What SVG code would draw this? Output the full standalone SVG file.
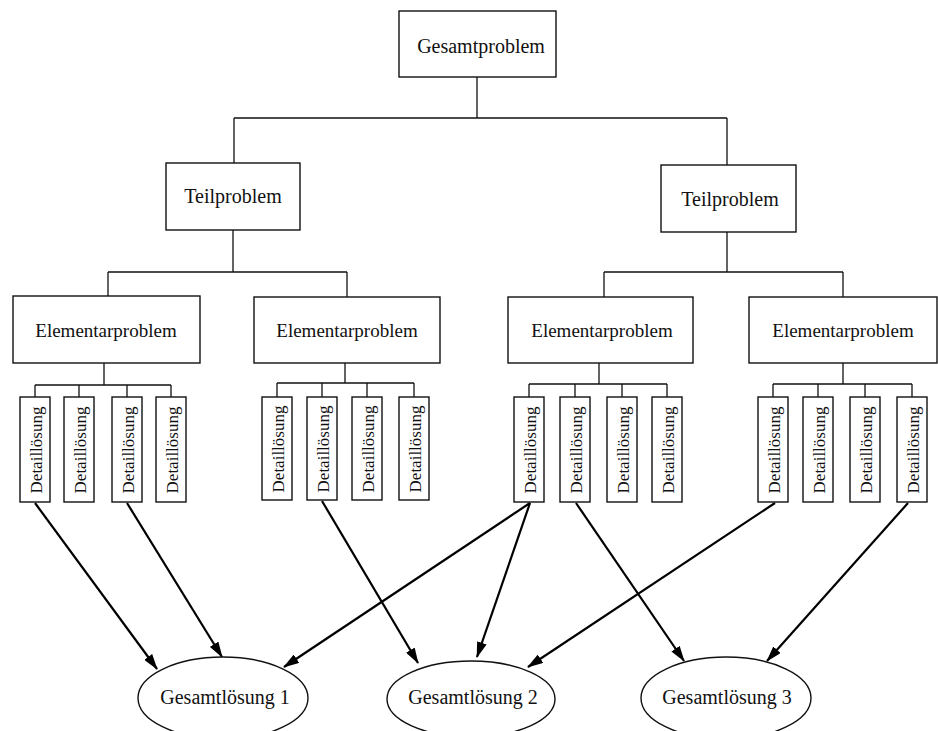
<svg xmlns="http://www.w3.org/2000/svg" width="938" height="731" viewBox="0 0 938 731">
<style>
.box{fill:#fff;stroke:#111;stroke-width:1.4}
.ln{fill:none;stroke:#111;stroke-width:1.3}
.arr{fill:none;stroke:#000;stroke-width:2.2}
.t{font-family:"Liberation Serif","Times New Roman",serif;font-size:20px;fill:#111;text-anchor:middle}
.te{font-family:"Liberation Serif","Times New Roman",serif;font-size:19px;fill:#111;text-anchor:middle}
.td{font-family:"Liberation Serif","Times New Roman",serif;font-size:17px;fill:#111;text-anchor:middle}
</style>
<defs>
<marker id="ah" markerWidth="16" markerHeight="10" refX="15" refY="5" orient="auto" markerUnits="userSpaceOnUse">
<path d="M0,0 L16,5 L0,10 Z" fill="#000"/>
</marker>
</defs>
<rect width="938" height="731" fill="#fff"/>
<g id="connectors">
<path class="ln" d="M477,77 V118 M234,118 H727 M234,118 V163 M727,118 V165"/>
<path class="ln" d="M233,230 V272 M108,272 H347 M108,272 V296 M347,272 V297"/>
<path class="ln" d="M727,232 V272 M604,272 H843 M604,272 V297 M843,272 V297"/>
<path class="ln" d="M104,363 V385 M35,385 H171 M35,385 V397 M79,385 V397 M127,385 V397 M171,385 V397"/>
<path class="ln" d="M345,363 V383 M277,383 H414 M277,383 V397 M322,383 V397 M367,383 V397 M414,383 V397"/>
<path class="ln" d="M599,363 V384 M529,384 H667 M529,384 V397 M575,384 V397 M622,384 V397 M667,384 V397"/>
<path class="ln" d="M843,363 V384 M773,384 H912 M773,384 V397 M818,384 V397 M865,384 V397 M912,384 V397"/>
<line class="arr" x1="35" y1="503" x2="157" y2="669" marker-end="url(#ah)"/>
<line class="arr" x1="127" y1="503" x2="222" y2="657" marker-end="url(#ah)"/>
<line class="arr" x1="322" y1="501" x2="418" y2="663" marker-end="url(#ah)"/>
<line class="arr" x1="530" y1="503" x2="284" y2="667" marker-end="url(#ah)"/>
<line class="arr" x1="530" y1="503" x2="477" y2="657" marker-end="url(#ah)"/>
<line class="arr" x1="576" y1="503" x2="684" y2="661" marker-end="url(#ah)"/>
<line class="arr" x1="775" y1="503" x2="528" y2="667" marker-end="url(#ah)"/>
<line class="arr" x1="908" y1="503" x2="767" y2="661" marker-end="url(#ah)"/>
</g>
<g id="gesamtproblem"><rect class="box" x="399" y="11" width="157" height="66"/><text class="t" x="481" y="53">Gesamtproblem</text></g>
<g id="teil1"><rect class="box" x="166" y="163" width="134" height="67"/><text class="t" x="233" y="203">Teilproblem</text></g>
<g id="teil2"><rect class="box" x="661" y="165" width="135" height="67"/><text class="t" x="730" y="206">Teilproblem</text></g>
<g id="elem1"><rect class="box" x="13" y="296" width="187" height="67"/><text class="te" x="106" y="337">Elementarproblem</text></g>
<g id="elem2"><rect class="box" x="254" y="297" width="186" height="66"/><text class="te" x="347" y="337">Elementarproblem</text></g>
<g id="elem3"><rect class="box" x="508" y="297" width="185" height="66"/><text class="te" x="602" y="337">Elementarproblem</text></g>
<g id="elem4"><rect class="box" x="749" y="297" width="188" height="66"/><text class="te" x="843" y="337">Elementarproblem</text></g>
<g id="d1"><rect class="box" x="20" y="397" width="30" height="105"/><text class="td" transform="translate(42,450) rotate(-90)">Detaillösung</text></g>
<g id="d2"><rect class="box" x="64" y="397" width="30" height="105"/><text class="td" transform="translate(86,450) rotate(-90)">Detaillösung</text></g>
<g id="d3"><rect class="box" x="112" y="397" width="30" height="105"/><text class="td" transform="translate(134,450) rotate(-90)">Detaillösung</text></g>
<g id="d4"><rect class="box" x="156" y="397" width="30" height="105"/><text class="td" transform="translate(178,450) rotate(-90)">Detaillösung</text></g>
<g id="d5"><rect class="box" x="262" y="397" width="30" height="103"/><text class="td" transform="translate(284,449) rotate(-90)">Detaillösung</text></g>
<g id="d6"><rect class="box" x="307" y="397" width="30" height="103"/><text class="td" transform="translate(329,449) rotate(-90)">Detaillösung</text></g>
<g id="d7"><rect class="box" x="352" y="397" width="30" height="103"/><text class="td" transform="translate(374,449) rotate(-90)">Detaillösung</text></g>
<g id="d8"><rect class="box" x="399" y="397" width="30" height="103"/><text class="td" transform="translate(421,449) rotate(-90)">Detaillösung</text></g>
<g id="d9"><rect class="box" x="514" y="397" width="30" height="105"/><text class="td" transform="translate(536,450) rotate(-90)">Detaillösung</text></g>
<g id="d10"><rect class="box" x="560" y="397" width="30" height="105"/><text class="td" transform="translate(582,450) rotate(-90)">Detaillösung</text></g>
<g id="d11"><rect class="box" x="607" y="397" width="30" height="105"/><text class="td" transform="translate(629,450) rotate(-90)">Detaillösung</text></g>
<g id="d12"><rect class="box" x="652" y="397" width="30" height="105"/><text class="td" transform="translate(674,450) rotate(-90)">Detaillösung</text></g>
<g id="d13"><rect class="box" x="758" y="397" width="30" height="105"/><text class="td" transform="translate(780,450) rotate(-90)">Detaillösung</text></g>
<g id="d14"><rect class="box" x="803" y="397" width="30" height="105"/><text class="td" transform="translate(825,450) rotate(-90)">Detaillösung</text></g>
<g id="d15"><rect class="box" x="850" y="397" width="30" height="105"/><text class="td" transform="translate(872,450) rotate(-90)">Detaillösung</text></g>
<g id="d16"><rect class="box" x="897" y="397" width="30" height="105"/><text class="td" transform="translate(919,450) rotate(-90)">Detaillösung</text></g>
<g id="gl1"><ellipse class="box" cx="223" cy="698" rx="85" ry="41"/><text class="t" x="225" y="704">Gesamtlösung 1</text></g>
<g id="gl2"><ellipse class="box" cx="471" cy="699" rx="84" ry="38"/><text class="t" x="473" y="704">Gesamtlösung 2</text></g>
<g id="gl3"><ellipse class="box" cx="726" cy="698" rx="85" ry="41"/><text class="t" x="727" y="704">Gesamtlösung 3</text></g>
</svg>
